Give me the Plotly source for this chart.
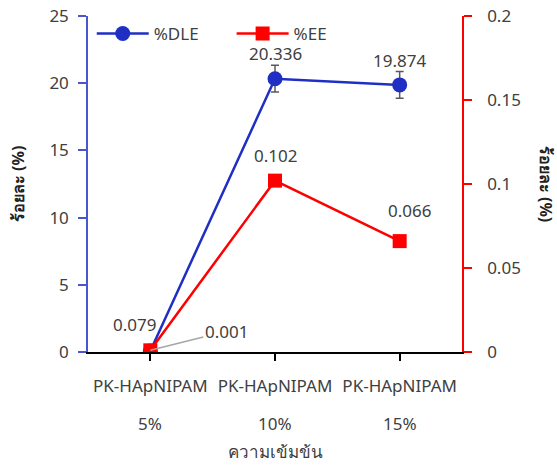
import plotly.graph_objects as go

sample_name = "PK-HApNIPAM"
concentrations = ["5%", "10%", "15%"]
dle_values = [0.079, 20.336, 19.874]
dle_errors = [0.0, 1.0, 1.0]
ee_values = [0.001, 0.102, 0.066]
ee_errors = [0.0, 0.003, 0.0]
dle_labels = ["0.079", "20.336", "19.874"]
ee_labels = ["0.001", "0.102", "0.066"]
tick_labels = [sample_name] * len(concentrations)

FONT = "Noto Sans, Tahoma, sans-serif"
BLUE = "#1F2FC4"
RED = "#FF0000"
TXT = "#404040"
FS = 17

fig = go.Figure()
fig.add_trace(go.Scatter(
    x=concentrations, y=dle_values, name="%DLE", mode="lines+markers", legend="legend",
    line=dict(color=BLUE, width=2.5),
    marker=dict(symbol="circle", size=15, color=BLUE),
    error_y=dict(type="data", array=dle_errors, color="#595959", thickness=1.5, width=4),
))
fig.add_trace(go.Scatter(
    x=concentrations, y=ee_values, name="%EE", mode="lines+markers", yaxis="y2", legend="legend2",
    line=dict(color=RED, width=2.5),
    marker=dict(symbol="square", size=14, color=RED),
    error_y=dict(type="data", array=ee_errors, color="#595959", thickness=1.5, width=4),
))

def lab(x, y, text, yref, xs=0, ys=24):
    return dict(x=x, y=y, xref="x", yref=yref, text=text, showarrow=False,
                xshift=xs, yshift=ys, font=dict(size=FS, color=TXT, family=FONT))

annotations = [
    lab(concentrations[0], dle_values[0], dle_labels[0], "y", xs=-16, ys=26),
    lab(concentrations[1], dle_values[1], dle_labels[1], "y", ys=25),
    lab(concentrations[2], dle_values[2], dle_labels[2], "y", ys=24),
    dict(x=concentrations[0], y=ee_values[0], xref="x", yref="y2", text=ee_labels[0],
         showarrow=True, arrowhead=0, arrowwidth=1.5, arrowcolor="#A6A6A6",
         ax=76, ay=-19, xanchor="center", yanchor="middle",
         font=dict(size=FS, color=TXT, family=FONT), standoff=0),
    lab(concentrations[1], ee_values[1], ee_labels[1], "y2", ys=25),
    lab(concentrations[2], ee_values[2], ee_labels[2], "y2", xs=10, ys=31),
]
# second line of category labels
for c in concentrations:
    annotations.append(dict(x=c, y=0, xref="x", yref="paper", text=c, showarrow=False,
                            yanchor="middle", yshift=-71, font=dict(size=FS, color=TXT, family=FONT)))
# x axis title
annotations.append(dict(x=0.5, y=0, xref="paper", yref="paper", text="ความเข้มข้น", showarrow=False,
                        yanchor="middle", yshift=-99, font=dict(size=FS, color=TXT, family=FONT)))
# y axis titles
annotations.append(dict(x=-0.187, y=0.5, xref="paper", yref="paper", text="<b>ร้อยละ (%)</b>",
                        xanchor="center", yanchor="middle",
                        showarrow=False, textangle=-90, font=dict(size=16, color="#222222", family=FONT)))
annotations.append(dict(x=1.225, y=0.5, xref="paper", yref="paper", text="<b>ร้อยละ (%)</b>",
                        xanchor="center", yanchor="middle",
                        showarrow=False, textangle=90, font=dict(size=16, color="#222222", family=FONT)))

leg_common = dict(orientation="h", y=1.0, xanchor="left", yanchor="top",
                  bgcolor="rgba(0,0,0,0)", font=dict(size=FS, color=TXT), itemwidth=52)

fig.update_layout(
    width=557, height=465,
    margin=dict(l=88, r=95, t=16, b=113, autoexpand=False),
    paper_bgcolor="white", plot_bgcolor="white",
    font=dict(family=FONT, size=FS, color=TXT),
    showlegend=True,
    legend=dict(x=0.01, **leg_common),
    legend2=dict(x=0.384, **leg_common),
    xaxis=dict(
        type="category", range=[-0.5, 2.5], showgrid=False, automargin=False,
        tickvals=concentrations, ticktext=tick_labels,
        showline=True, linecolor="black", linewidth=1.5,
        ticks="outside", tickson="labels", ticklen=7, tickcolor="black", tickwidth=1.5,
        ticklabelstandoff=11,
        tickfont=dict(size=FS, color=TXT),
        zeroline=False,
    ),
    yaxis=dict(
        range=[0, 25], dtick=5, showgrid=False, zeroline=False, automargin=False,
        showline=True, linecolor="#4a55d0", linewidth=1.5,
        ticks="outside", ticklen=8, tickcolor="#4a55d0", tickwidth=1.5,
        ticklabelstandoff=6,
        tickfont=dict(size=FS, color=TXT),
    ),
    yaxis2=dict(
        range=[0, 0.2], dtick=0.05, overlaying="y", side="right", showgrid=False, zeroline=False,
        automargin=False,
        showline=True, linecolor=RED, linewidth=1.5,
        ticks="outside", ticklen=8, tickcolor=RED, tickwidth=1.5,
        ticklabelstandoff=12,
        tickfont=dict(size=FS, color=TXT),
    ),
    shapes=[dict(type="line", xref="x domain", yref="y", x0=1, x1=1, y0=0, y1=-7,
                 ysizemode="pixel", yanchor=0, line=dict(color="black", width=1.5))],
    annotations=annotations,
)

fig.write_html("out.html")
